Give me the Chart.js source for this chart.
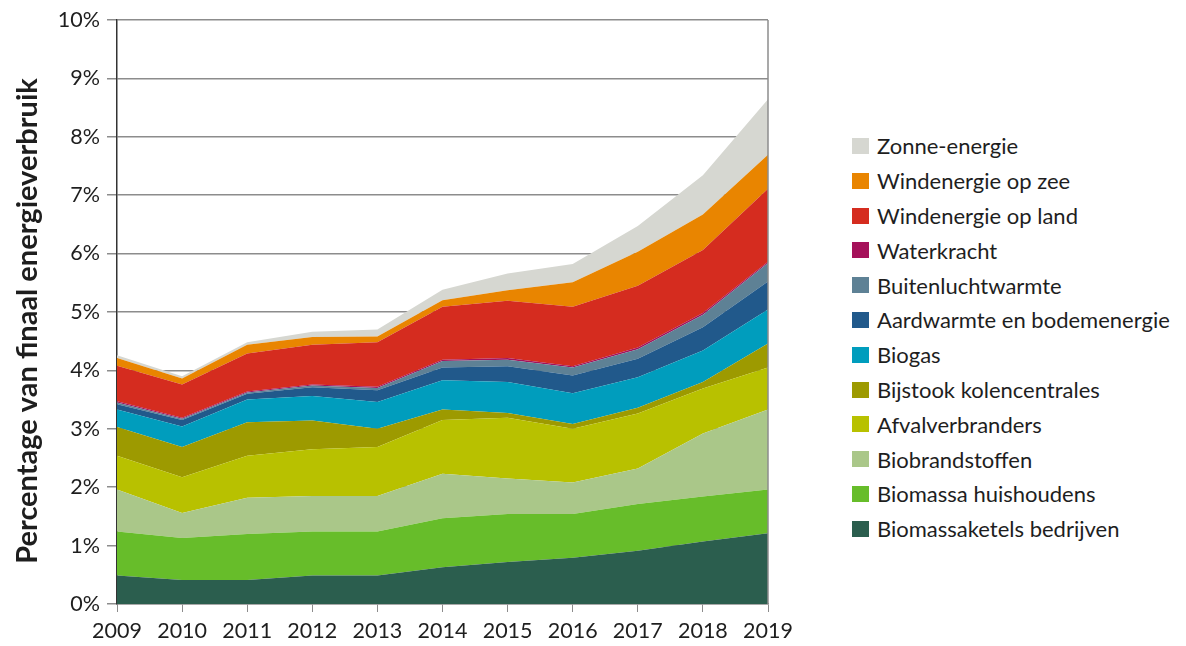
<!DOCTYPE html>
<html>
<head>
<meta charset="utf-8">
<script src="https://cdn.jsdelivr.net/npm/chart.js@4/dist/chart.umd.min.js"></script>
<style>
  body { margin: 0; background: #fff; font-family: Lato, sans-serif; }
  #wrap { position: relative; width: 1186px; height: 646px; }
  #chart { position: absolute; left: 0; top: 0; }
  #legend { position: absolute; left: 852px; top: 128.6px; margin: 0; padding: 0; list-style: none; }
  #legend li { height: 34.8px; display: flex; align-items: center; font-size: 22px; color: #1e1e1e; white-space: nowrap; }
  #legend span { display: inline-block; width: 17px; height: 16px; margin-right: 8px; }
</style>
</head>
<body>
<div id="wrap">
  <canvas id="chart" width="800" height="646"></canvas>
  <ul id="legend"></ul>
</div>
<script>
const years = ['2009', '2010', '2011', '2012', '2013', '2014', '2015', '2016', '2017', '2018', '2019'];

// share of final energy use, % (bottom of the stack first)
const biomassaketels = [0.49, 0.41, 0.41, 0.49, 0.49, 0.63, 0.72, 0.79, 0.91, 1.07, 1.21];
const biomassaHuishoudens = [0.75, 0.72, 0.79, 0.75, 0.75, 0.84, 0.82, 0.75, 0.80, 0.77, 0.75];
const biobrandstoffen = [0.72, 0.43, 0.62, 0.61, 0.61, 0.76, 0.61, 0.54, 0.61, 1.08, 1.37];
const afvalverbranders = [0.58, 0.61, 0.72, 0.80, 0.84, 0.92, 1.04, 0.92, 0.94, 0.77, 0.72];
const bijstook = [0.49, 0.52, 0.57, 0.49, 0.31, 0.18, 0.08, 0.08, 0.10, 0.11, 0.41];
const biogas = [0.30, 0.35, 0.39, 0.42, 0.46, 0.50, 0.53, 0.53, 0.52, 0.54, 0.58];
const aardwarmte = [0.09, 0.11, 0.10, 0.15, 0.20, 0.22, 0.27, 0.30, 0.32, 0.40, 0.48];
const buitenlucht = [0.03, 0.02, 0.02, 0.03, 0.04, 0.11, 0.11, 0.14, 0.16, 0.21, 0.32];
const waterkracht = [0.02, 0.02, 0.02, 0.02, 0.02, 0.02, 0.03, 0.02, 0.03, 0.03, 0.02];
const windLand = [0.61, 0.57, 0.65, 0.68, 0.76, 0.91, 0.98, 1.02, 1.06, 1.08, 1.25];
const windZee = [0.13, 0.10, 0.15, 0.13, 0.10, 0.11, 0.18, 0.42, 0.58, 0.61, 0.58];
const zonne = [0.05, 0.04, 0.04, 0.09, 0.12, 0.18, 0.29, 0.31, 0.44, 0.67, 0.95];

const yTicks = [0, 1, 2, 3, 4, 5, 6, 7, 8, 9, 10];
const yTitle = 'Percentage van finaal energieverbruik';

const series = [
    { label: 'Biomassaketels bedrijven', data: biomassaketels, color: '#2b5e4e' },
    { label: 'Biomassa huishoudens', data: biomassaHuishoudens, color: '#67bd2a' },
    { label: 'Biobrandstoffen', data: biobrandstoffen, color: '#aac789' },
    { label: 'Afvalverbranders', data: afvalverbranders, color: '#b8c100' },
    { label: 'Bijstook kolencentrales', data: bijstook, color: '#9d9a00' },
    { label: 'Biogas', data: biogas, color: '#009dbd' },
    { label: 'Aardwarmte en bodemenergie', data: aardwarmte, color: '#21598b' },
    { label: 'Buitenluchtwarmte', data: buitenlucht, color: '#5e8195' },
    { label: 'Waterkracht', data: waterkracht, color: '#a5115a' },
    { label: 'Windenergie op land', data: windLand, color: '#d52c1f' },
    { label: 'Windenergie op zee', data: windZee, color: '#e98500' },
    { label: 'Zonne-energie', data: zonne, color: '#d6d7d1' }
];

// right border of the plot + rotated axis title (sits a bit below the axis middle)
const extras = {
    id: 'extras',
    afterDatasetsDraw(chart) {
        const { ctx, chartArea } = chart;
        ctx.save();
        ctx.strokeStyle = '#8c8c8c';
        ctx.lineWidth = 1.5;
        ctx.beginPath();
        ctx.moveTo(chartArea.right, chartArea.top);
        ctx.lineTo(chartArea.right, chartArea.bottom);
        ctx.stroke();

        ctx.translate(28, 321);
        ctx.rotate(-Math.PI / 2);
        ctx.fillStyle = '#1e1e1e';
        ctx.font = 'bold 29px Lato';
        ctx.textAlign = 'center';
        ctx.textBaseline = 'middle';
        ctx.fillText(yTitle, 0, 0);
        ctx.restore();
    }
};

new Chart(document.getElementById('chart'), {
    type: 'line',
    data: {
        labels: years,
        datasets: series.map((s, i) => ({
            label: s.label,
            data: s.data,
            backgroundColor: s.color,
            borderColor: s.color,
            borderWidth: 0,
            pointRadius: 0,
            tension: 0,
            fill: i === 0 ? 'origin' : '-1'
        }))
    },
    options: {
        responsive: false,
        animation: false,
        devicePixelRatio: 1,
        layout: { padding: { top: 18, right: 32, left: 0, bottom: 0 } },
        plugins: {
            legend: { display: false },
            tooltip: { enabled: false }
        },
        scales: {
            x: {
                offset: false,
                grid: { drawOnChartArea: false, drawTicks: true, tickLength: 8, color: '#8c8c8c' },
                border: { color: '#8c8c8c', width: 1.5 },
                ticks: { color: '#1e1e1e', font: { family: 'Lato', size: 21.5 }, padding: 6, maxRotation: 0 },
                afterFit: s => { s.height = 42; }
            },
            y: {
                stacked: true,
                min: 0,
                max: 10,
                afterBuildTicks: s => { s.ticks = yTicks.map(v => ({ value: v })); },
                grid: { color: '#8c8c8c', lineWidth: 1.5, tickLength: 10 },
                border: { color: '#333', width: 1.5 },
                ticks: {
                    color: '#1e1e1e',
                    font: { family: 'Lato', size: 21.5 },
                    padding: 7,
                    callback: v => v + '%'
                },
                afterFit: s => { s.width = 117; }
            }
        }
    },
    plugins: [extras]
});

// legend, top item first
const legend = document.getElementById('legend');
series.slice().reverse().forEach(s => {
    const li = document.createElement('li');
    li.innerHTML = '<span style="background:' + s.color + '"></span>' + s.label;
    legend.appendChild(li);
});
</script>
</body>
</html>
